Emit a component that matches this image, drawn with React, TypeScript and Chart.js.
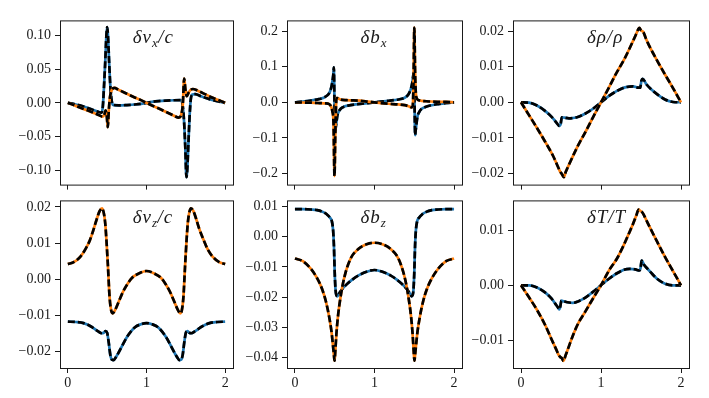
import React, { useEffect, useRef } from 'react';
import { Chart, registerables } from 'chart.js';

Chart.register(...registerables);

// ---------- shared axis data ----------
const X_TICKS = [0, 1, 2];
const X_TICK_LABELS = ['0', '1', '2'];
const TITLES = ['δv_x/c', 'δb_x', 'δρ/ρ', 'δv_z/c', 'δb_z', 'δT/T'];

// ---------- δv_x/c ----------
const vxBlueX = [0, 0.1, 0.2, 0.3, 0.38, 0.43, 0.445, 0.46, 0.475, 0.49, 0.5, 0.51, 0.525, 0.54, 0.555, 0.575, 0.65, 0.75, 0.85, 0.93, 1.0, 1.07, 1.15, 1.25, 1.35, 1.43, 1.446, 1.461, 1.478, 1.493, 1.508, 1.518, 1.533, 1.548, 1.563, 1.58, 1.62, 1.7, 1.8, 1.9, 2.0];
const vxBlueY = [0, -0.0024, -0.0055, -0.0095, -0.013, -0.0145, -0.005, 0.025, 0.06, 0.1, 0.112, 0.1, 0.06, 0.025, 0.005, -0.003, -0.0038, -0.0033, -0.0025, -0.0015, 0, 0.0015, 0.0025, 0.0033, 0.0038, 0.004, 0.003, -0.005, -0.028, -0.065, -0.11, -0.1, -0.06, -0.02, 0.005, 0.012, 0.013, 0.0095, 0.0055, 0.0024, 0];
const vxOrangeX = [0, 0.1, 0.2, 0.3, 0.4, 0.445, 0.465, 0.48, 0.495, 0.508, 0.52, 0.535, 0.555, 0.59, 0.65, 0.75, 0.85, 0.93, 1.0, 1.07, 1.15, 1.25, 1.35, 1.41, 1.44, 1.462, 1.479, 1.495, 1.512, 1.535, 1.56, 1.59, 1.65, 1.75, 1.85, 1.93, 2.0];
const vxOrangeY = [0, -0.0045, -0.009, -0.0135, -0.0185, -0.0205, -0.017, -0.011, -0.02, -0.036, -0.012, 0.008, 0.018, 0.022, 0.019, 0.0135, 0.008, 0.004, 0, -0.004, -0.008, -0.0135, -0.019, -0.022, -0.018, -0.002, 0.036, 0.02, 0.0098, 0.015, 0.019, 0.0205, 0.018, 0.0125, 0.007, 0.0035, 0];
const vxTicks = [-0.1, -0.05, 0, 0.05, 0.1];
const vxTickLabels = ['−0.10', '−0.05', '0.00', '0.05', '0.10'];

// ---------- δb_x ----------
const bxBlueX = [0, 0.1, 0.2, 0.3, 0.36, 0.41, 0.44, 0.46, 0.475, 0.483, 0.489, 0.497, 0.505, 0.513, 0.522, 0.535, 0.55, 0.575, 0.62, 0.7, 0.82, 0.92, 1.0, 1.08, 1.18, 1.3, 1.38, 1.42, 1.44, 1.46, 1.475, 1.487, 1.495, 1.503, 1.511, 1.517, 1.525, 1.54, 1.56, 1.59, 1.64, 1.7, 1.8, 1.9, 2.0];
const bxBlueY = [0, 0.002, 0.005, 0.009, 0.013, 0.02, 0.03, 0.045, 0.065, 0.08, 0.098, 0.0, -0.085, -0.07, -0.055, -0.035, -0.026, -0.018, -0.012, -0.008, -0.0045, -0.002, 0, 0.002, 0.0045, 0.008, 0.013, 0.02, 0.028, 0.04, 0.055, 0.075, 0.085, 0.0, -0.092, -0.08, -0.065, -0.04, -0.028, -0.019, -0.013, -0.009, -0.005, -0.002, 0];
const bxOrangeX = [0, 0.1, 0.2, 0.3, 0.38, 0.43, 0.45, 0.47, 0.485, 0.497, 0.507, 0.515, 0.522, 0.535, 0.57, 0.65, 0.82, 0.92, 1.0, 1.08, 1.18, 1.3, 1.38, 1.43, 1.465, 1.48, 1.49, 1.501, 1.51, 1.52, 1.535, 1.57, 1.65, 1.8, 1.9, 2.0];
const bxOrangeY = [0, -0.0005, -0.001, -0.002, -0.003, -0.005, -0.01, -0.025, -0.06, -0.207, -0.09, -0.02, 0.012, 0.012, 0.008, 0.006, 0.0045, 0.002, 0, -0.002, -0.004, -0.006, -0.008, -0.011, -0.014, -0.012, 0.05, 0.21, 0.09, 0.025, 0.01, 0.005, 0.003, 0.0015, 0.001, 0];
const bxTicks = [-0.2, -0.1, 0, 0.1, 0.2];
const bxTickLabels = ['−0.2', '−0.1', '0.0', '0.1', '0.2'];

// ---------- δρ/ρ ----------
const rhoBlueX = [0, 0.1, 0.2, 0.3, 0.38, 0.44, 0.48, 0.495, 0.51, 0.54, 0.6, 0.7, 0.8, 0.9, 1.0, 1.1, 1.2, 1.3, 1.4, 1.47, 1.49, 1.505, 1.52, 1.57, 1.62, 1.7, 1.8, 1.9, 2.0];
const rhoBlueY = [0, -0.0001, -0.0009, -0.0024, -0.004, -0.0056, -0.0066, -0.0062, -0.0042, -0.0043, -0.0045, -0.0042, -0.0032, -0.0018, 0, 0.0018, 0.0032, 0.0042, 0.0045, 0.0041, 0.0041, 0.006, 0.0066, 0.005, 0.0038, 0.0023, 0.0008, 0.0001, 0];
const rhoOrangeX = [0, 0.1, 0.2, 0.3, 0.4, 0.47, 0.49, 0.5, 0.52, 0.535, 0.56, 0.6, 0.7, 0.82, 0.9, 1.0, 1.1, 1.18, 1.3, 1.4, 1.44, 1.465, 1.48, 1.5, 1.53, 1.56, 1.6, 1.7, 1.8, 1.9, 2.0];
const rhoOrangeY = [0, -0.0036, -0.0072, -0.011, -0.015, -0.0185, -0.0195, -0.0198, -0.0205, -0.021, -0.0195, -0.0175, -0.0127, -0.0077, -0.0042, 0, 0.0042, 0.0077, 0.0125, 0.0172, 0.0192, 0.0205, 0.0209, 0.0202, 0.0197, 0.018, 0.016, 0.0118, 0.0078, 0.004, 0];
const rhoTicks = [-0.02, -0.01, 0, 0.01, 0.02];
const rhoTickLabels = ['−0.02', '−0.01', '0.00', '0.01', '0.02'];

// ---------- δv_z/c ----------
const vzBlueX = [0, 0.1, 0.2, 0.3, 0.38, 0.43, 0.46, 0.48, 0.5, 0.52, 0.54, 0.56, 0.58, 0.62, 0.68, 0.75, 0.85, 0.93, 1.0, 1.07, 1.15, 1.25, 1.32, 1.38, 1.42, 1.44, 1.46, 1.48, 1.5, 1.52, 1.54, 1.57, 1.62, 1.7, 1.8, 1.9, 2.0];
const vzBlueY = [-0.0117, -0.0118, -0.0121, -0.0131, -0.0143, -0.0149, -0.0147, -0.0143, -0.0148, -0.0175, -0.0209, -0.0222, -0.0223, -0.0212, -0.0188, -0.016, -0.0133, -0.0124, -0.0121, -0.0124, -0.0133, -0.016, -0.0188, -0.0212, -0.0223, -0.0222, -0.0209, -0.0175, -0.0148, -0.0143, -0.0147, -0.0149, -0.0143, -0.0131, -0.0121, -0.0118, -0.0117];
const vzOrangeX = [0, 0.08, 0.16, 0.22, 0.28, 0.33, 0.37, 0.405, 0.435, 0.46, 0.475, 0.49, 0.51, 0.53, 0.55, 0.57, 0.6, 0.65, 0.7, 0.76, 0.82, 0.9, 1.0, 1.1, 1.18, 1.24, 1.3, 1.35, 1.4, 1.43, 1.45, 1.47, 1.49, 1.51, 1.525, 1.54, 1.565, 1.595, 1.63, 1.67, 1.72, 1.78, 1.84, 1.92, 2.0];
const vzOrangeY = [0.0042, 0.0048, 0.0063, 0.0082, 0.0108, 0.014, 0.0168, 0.0189, 0.0196, 0.018, 0.0155, 0.011, 0.0035, -0.0048, -0.0085, -0.0094, -0.0085, -0.006, -0.0035, -0.0012, 0.0005, 0.0016, 0.0023, 0.0016, 0.0005, -0.0012, -0.0035, -0.006, -0.0085, -0.0094, -0.0085, -0.0048, 0.0035, 0.011, 0.0155, 0.018, 0.0196, 0.0189, 0.0168, 0.014, 0.0112, 0.0082, 0.0063, 0.0048, 0.0042];
const vzTicks = [-0.02, -0.01, 0, 0.01, 0.02];
const vzTickLabels = ['−0.02', '−0.01', '0.00', '0.01', '0.02'];

// ---------- δb_z ----------
const bzBlueX = [0, 0.1, 0.2, 0.28, 0.35, 0.4, 0.44, 0.465, 0.48, 0.49, 0.5, 0.51, 0.52, 0.535, 0.55, 0.58, 0.64, 0.72, 0.8, 0.9, 1.0, 1.1, 1.2, 1.28, 1.36, 1.42, 1.45, 1.465, 1.48, 1.49, 1.5, 1.51, 1.52, 1.535, 1.56, 1.6, 1.65, 1.72, 1.8, 1.9, 2.0];
const bzBlueY = [0.0091, 0.0091, 0.009, 0.0088, 0.0082, 0.0074, 0.0063, 0.005, 0.002, -0.003, -0.012, -0.0175, -0.0193, -0.0197, -0.019, -0.0178, -0.016, -0.0142, -0.0128, -0.0116, -0.011, -0.0116, -0.0128, -0.0142, -0.016, -0.0178, -0.019, -0.0197, -0.0193, -0.0175, -0.012, -0.003, 0.002, 0.005, 0.0063, 0.0074, 0.0082, 0.0088, 0.009, 0.0091, 0.0091];
const bzOrangeX = [0, 0.1, 0.2, 0.28, 0.34, 0.39, 0.43, 0.46, 0.48, 0.49, 0.498, 0.507, 0.52, 0.54, 0.57, 0.62, 0.7, 0.8, 0.9, 1.0, 1.1, 1.2, 1.3, 1.38, 1.43, 1.46, 1.48, 1.493, 1.502, 1.51, 1.52, 1.54, 1.57, 1.61, 1.66, 1.72, 1.8, 1.9, 2.0];
const bzOrangeY = [-0.0072, -0.0081, -0.0106, -0.0138, -0.0172, -0.0215, -0.0265, -0.0315, -0.0365, -0.0392, -0.041, -0.038, -0.0325, -0.0265, -0.0205, -0.0135, -0.0072, -0.004, -0.0025, -0.002, -0.0025, -0.004, -0.0072, -0.0135, -0.0205, -0.0265, -0.0325, -0.038, -0.041, -0.0392, -0.0365, -0.0315, -0.0265, -0.0215, -0.0172, -0.0138, -0.0106, -0.0081, -0.0072];
const bzTicks = [-0.04, -0.03, -0.02, -0.01, 0, 0.01];
const bzTickLabels = ['−0.04', '−0.03', '−0.02', '−0.01', '0.00', '0.01'];

// ---------- δT/T ----------
const tBlueX = [0, 0.1, 0.2, 0.3, 0.38, 0.43, 0.46, 0.478, 0.492, 0.505, 0.53, 0.58, 0.65, 0.72, 0.8, 0.9, 1.0, 1.1, 1.2, 1.28, 1.36, 1.43, 1.48, 1.495, 1.508, 1.522, 1.54, 1.57, 1.62, 1.7, 1.8, 1.9, 2.0];
const tBlueY = [0, 0, -0.0004, -0.0013, -0.0024, -0.0034, -0.004, -0.0044, -0.0038, -0.0028, -0.0029, -0.0031, -0.0032, -0.0029, -0.0023, -0.0012, 0, 0.0012, 0.0022, 0.0028, 0.003, 0.0029, 0.0027, 0.0032, 0.0045, 0.0042, 0.0037, 0.0032, 0.0024, 0.0012, 0.0003, 0, 0];
const tOrangeX = [0, 0.1, 0.2, 0.3, 0.38, 0.44, 0.47, 0.49, 0.51, 0.53, 0.56, 0.6, 0.65, 0.72, 0.8, 0.9, 1.0, 1.1, 1.2, 1.28, 1.35, 1.4, 1.44, 1.47, 1.49, 1.51, 1.53, 1.56, 1.62, 1.7, 1.8, 1.9, 2.0];
const tOrangeY = [0, -0.0022, -0.0045, -0.0072, -0.0098, -0.0117, -0.0127, -0.0131, -0.0133, -0.0138, -0.0127, -0.0111, -0.0091, -0.0068, -0.0049, -0.0024, 0, 0.0027, 0.0049, 0.0072, 0.0095, 0.0112, 0.0127, 0.0138, 0.0136, 0.0134, 0.013, 0.0121, 0.0103, 0.008, 0.0052, 0.0026, 0];
const tTicks = [-0.01, 0, 0.01];
const tTickLabels = ['−0.01', '0.00', '0.01'];

// ---------- panel assembly ----------
const PANELS = [
  { bx: vxBlueX, by: vxBlueY, ox: vxOrangeX, oy: vxOrangeY, yMin: -0.121, yMax: 0.122, ticks: vxTicks, labels: vxTickLabels },
  { bx: bxBlueX, by: bxBlueY, ox: bxOrangeX, oy: bxOrangeY, yMin: -0.231, yMax: 0.23, ticks: bxTicks, labels: bxTickLabels },
  { bx: rhoBlueX, by: rhoBlueY, ox: rhoOrangeX, oy: rhoOrangeY, yMin: -0.0231, yMax: 0.023, ticks: rhoTicks, labels: rhoTickLabels },
  { bx: vzBlueX, by: vzBlueY, ox: vzOrangeX, oy: vzOrangeY, yMin: -0.0245, yMax: 0.0218, ticks: vzTicks, labels: vzTickLabels },
  { bx: bzBlueX, by: bzBlueY, ox: bzOrangeX, oy: bzOrangeY, yMin: -0.0434, yMax: 0.012, ticks: bzTicks, labels: bzTickLabels },
  { bx: tBlueX, by: tBlueY, ox: tOrangeX, oy: tOrangeY, yMin: -0.0151, yMax: 0.0155, ticks: tTicks, labels: tTickLabels },
];

// frame boxes (layout only)
const FRAMES = [
  { l: 60, t: 20, r: 233, b: 187 },
  { l: 287, t: 20, r: 462, b: 187 },
  { l: 513, t: 20, r: 689, b: 187 },
  { l: 60, t: 200, r: 233, b: 368 },
  { l: 287, t: 200, r: 462, b: 368 },
  { l: 513, t: 200, r: 689, b: 368 },
];

const BLUE = '#1f77b4';
const ORANGE = '#ff7f0e';
const INK = '#1a1a1a';
const Y_AXIS_W = 60;
const PAD_TOP = 12;
const PAD_RIGHT = 6;
const FONT = 'Liberation Serif';
const LINE_W = 2.7;

function geo(i: number) {
  const f = FRAMES[i];
  const bottomRow = i >= 3;
  const xh = bottomRow ? 22 : 10;
  return {
    l: f.l - Y_AXIS_W,
    t: f.t - PAD_TOP,
    w: f.r - f.l + Y_AXIS_W + PAD_RIGHT,
    h: f.b - f.t + PAD_TOP + xh,
    xh,
    bottomRow,
  };
}

function pts(xs: number[], ys: number[]) {
  return xs.map((x, k) => ({ x, y: ys[k] }));
}

function drawTitle(ctx: CanvasRenderingContext2D, text: string, x0: number, y: number) {
  let x = x0;
  ctx.fillStyle = INK;
  ctx.textAlign = 'left';
  ctx.textBaseline = 'alphabetic';
  for (let k = 0; k < text.length; k++) {
    let ch = text[k];
    let sub = false;
    if (ch === '_') {
      sub = true;
      k++;
      ch = text[k];
    }
    const size = sub ? 13 : 19;
    ctx.font = `italic ${size}px "${FONT}"`;
    ctx.fillText(ch, x, sub ? y + 4 : y);
    x += ctx.measureText(ch).width + (sub ? 0.5 : 1);
  }
}

export default function App() {
  const refs = useRef<(HTMLCanvasElement | null)[]>([]);

  useEffect(() => {
    const charts = PANELS.map((p, i) => {
      const canvas = refs.current[i] as HTMLCanvasElement;
      const g = geo(i);
      const title = TITLES[i];
      const deco = {
        id: 'deco' + i,
        afterDraw(chart: any) {
          const { ctx, chartArea: a } = chart;
          ctx.save();
          ctx.strokeStyle = INK;
          ctx.lineWidth = 1;
          ctx.strokeRect(a.left + 0.5, a.top + 0.5, a.right - a.left, a.bottom - a.top);
          drawTitle(ctx, title, a.left + 0.42 * (a.right - a.left), a.top + 23);
          ctx.restore();
        },
      };
      const dashed = { borderColor: '#000', borderDash: [7, 3], borderWidth: LINE_W };
      return new Chart(canvas, {
        type: 'line',
        data: {
          datasets: [
            { data: pts(p.ox, p.oy), ...dashed },
            { data: pts(p.ox, p.oy), borderColor: ORANGE, borderWidth: LINE_W },
            { data: pts(p.bx, p.by), ...dashed },
            { data: pts(p.bx, p.by), borderColor: BLUE, borderWidth: LINE_W },
          ],
        },
        options: {
          animation: false,
          responsive: false,
          maintainAspectRatio: false,
          devicePixelRatio: 1,
          events: [],
          layout: { padding: { left: 0, top: PAD_TOP, right: PAD_RIGHT, bottom: 0 } },
          elements: {
            point: { radius: 0, hoverRadius: 0 },
            line: { cubicInterpolationMode: 'monotone', fill: false, borderCapStyle: 'butt', borderJoinStyle: 'round' },
          },
          plugins: { legend: { display: false }, tooltip: { enabled: false }, title: { display: false } },
          scales: {
            x: {
              type: 'linear',
              min: -0.1,
              max: 2.1,
              afterBuildTicks: (s: any) => {
                s.ticks = X_TICKS.map((v) => ({ value: v }));
              },
              afterFit: (s: any) => {
                s.height = g.xh;
              },
              grid: { drawOnChartArea: false, drawTicks: true, tickLength: 5, color: INK, lineWidth: 1 },
              border: { display: false },
              ticks: {
                autoSkip: false,
                maxRotation: 0,
                padding: 2,
                color: INK,
                font: { family: FONT, size: 14 },
                callback: (_v: any, idx: number) => (g.bottomRow ? X_TICK_LABELS[idx] : ''),
              },
            },
            y: {
              type: 'linear',
              min: p.yMin,
              max: p.yMax,
              afterBuildTicks: (s: any) => {
                s.ticks = p.ticks.map((v) => ({ value: v }));
              },
              afterFit: (s: any) => {
                s.width = Y_AXIS_W;
              },
              grid: { drawOnChartArea: false, drawTicks: true, tickLength: 5, color: INK, lineWidth: 1 },
              border: { display: false },
              ticks: {
                autoSkip: false,
                padding: 4,
                color: INK,
                font: { family: FONT, size: 14 },
                callback: (_v: any, idx: number) => p.labels[idx],
              },
            },
          },
        },
        plugins: [deco],
      } as any);
    });
    return () => {
      charts.forEach((c) => c.destroy());
    };
  }, []);

  return (
    <div style={{ position: 'fixed', left: 0, top: 0, width: 709, height: 398, background: '#fff', overflow: 'hidden' }}>
      {FRAMES.map((_f, i) => {
        const g = geo(i);
        return (
          <canvas
            key={i}
            ref={(el) => {
              refs.current[i] = el;
            }}
            width={g.w}
            height={g.h}
            style={{ position: 'absolute', left: g.l, top: g.t, width: g.w, height: g.h }}
          />
        );
      })}
    </div>
  );
}
